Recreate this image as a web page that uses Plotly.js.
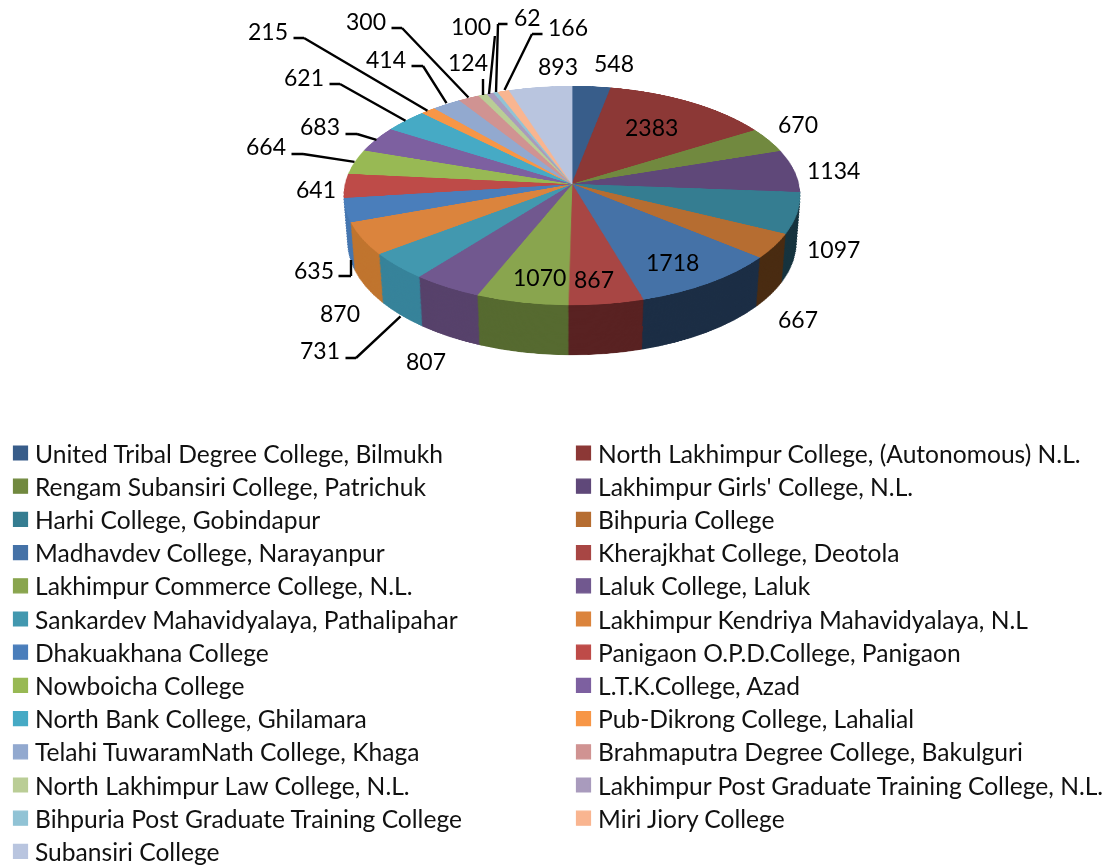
<!DOCTYPE html>
<html><head><meta charset="utf-8"><script src="https://cdn.plot.ly/plotly-3.0.1.min.js"></script>
<style>html,body{margin:0;padding:0;background:#fff;overflow:hidden}#w{width:1111px;height:865px;position:relative;overflow:hidden}#c{width:1180px;height:910px;position:relative}</style></head>
<body><div id="w"><div id="c"></div></div>
<script>
const colleges = ["United Tribal Degree College, Bilmukh","North Lakhimpur College, (Autonomous) N.L.","Rengam Subansiri College, Patrichuk","Lakhimpur Girls' College, N.L.","Harhi College, Gobindapur","Bihpuria College","Madhavdev College, Narayanpur","Kherajkhat College, Deotola","Lakhimpur Commerce College, N.L.","Laluk College, Laluk","Sankardev Mahavidyalaya, Pathalipahar","Lakhimpur Kendriya Mahavidyalaya, N.L","Dhakuakhana College","Panigaon O.P.D.College, Panigaon","Nowboicha College","L.T.K.College, Azad","North Bank College, Ghilamara","Pub-Dikrong College, Lahalial","Telahi TuwaramNath College, Khaga","Brahmaputra Degree College, Bakulguri","North Lakhimpur Law College, N.L.","Lakhimpur Post Graduate Training College, N.L.","Bihpuria Post Graduate Training College","Miri Jiory College","Subansiri College"];
const enrolment = [548,2383,670,1134,1097,667,1718,867,1070,807,731,870,635,641,664,683,621,215,414,300,124,100,62,166,893];
const topColors = ["#385d8a","#8c3836","#71893f","#5f4879","#357d91","#b66d31","#4572a7","#a84644","#89a54e","#71588f","#4298af","#db843d","#4a7ebb","#be4b48","#98b954","#7d60a0","#46aac5","#f79646","#92a9cf","#d09392","#bacd96","#a99bbd","#91c3d5","#f9b590","#b9c5df"];
const sideColors = ["#1f3550","#4f201f","#404e24","#362945","#17343f","#4a2c12","#1c2e45","#592222","#566a30","#57426b","#37839a","#c0752f","#4677b0","#a04040","#98b954","#7d60a0","#46aac5","#f79646","#92a9cf","#d09392","#bacd96","#a99bbd","#91c3d5","#f9b590","#b9c5df"];
const labelX = [614,652,798,833,833,798,673,594,539,426,320,340,314,316,266,320,304,268,386,366,468,471,527,568,558];
const labelY = [63,127,124,170,249,319,262,279,277,361,350,313,270,189,146,126,77,31,59,21,62,26,17,27,66];
const leaders = [
 [[293,38],[304,38],[428,111]],
 [[391,28],[402,28],[469,98]],
 [[483,78],[483,95]],
 [[495,35],[489,94]],
 [[508,24],[498,24],[496,93]],
 [[543,34],[532,34],[504,91]],
 [[411,66],[423,66],[447,104]],
 [[329,84],[340,84],[406,121]],
 [[345,134],[357,134],[377,140]],
 [[291,154],[303,154],[355,162]],
 [[338,276],[351,276],[351,259]],
 [[345,358],[356,358],[401,316]]
];
const W=1180,H=910,FONT="Lato, 'Open Sans', sans-serif",LABEL_SIZE=23,LEGEND_SIZE=24.6;
const legendLeft=-5,legendCol=563,legendRow=33.2,legendFirst=453;
const px=555,py=400,R=300,layers=60,shift=0.414,shrink=0.94;
const cx=572,y0=184,pp=0.105,a=226.7,b=108.3;

function pie(r,dy,colors,extra){
  const c=py+dy;
  return Object.assign({type:'pie',values:enrolment,sort:false,direction:'clockwise',rotation:0,
    textinfo:'none',textposition:'none',hoverinfo:'skip',showlegend:false,
    domain:{x:[(px-r)/W,(px+r)/W],y:[1-(c+r)/H,1-(c-r)/H]},
    marker:{colors:colors,line:{color:colors,width:1}}},extra||{});
}
const data=[];
for(let i=layers;i>=1;i--){
  const t=i/layers;
  data.push(pie(R*(1-(1-shrink)*t),R*shift*t,sideColors));
}
data.push(pie(R,0,topColors,{labels:colleges,showlegend:true,hoverinfo:'label+value'}));

const annotations=[];
enrolment.forEach((v,i)=>annotations.push({xref:'paper',yref:'paper',x:labelX[i]/W,y:1-labelY[i]/H,text:String(v),showarrow:false,xanchor:'center',yanchor:'middle',font:{family:FONT,size:LABEL_SIZE,color:'#000'}}));
function seg(tail,head){
  annotations.push({xref:'paper',yref:'paper',x:head[0]/W,y:1-head[1]/H,ax:tail[0]-head[0],ay:tail[1]-head[1],axref:'pixel',ayref:'pixel',text:' ',font:{size:1},showarrow:true,arrowhead:0,arrowwidth:2.4,arrowcolor:'#000',standoff:0,startstandoff:0,borderpad:0});
}
leaders.forEach(l=>{
  if(l.length===2){seg(l[0],l[1]);return;}
  seg(l[0],l[1]);seg(l[2],l[1]);
});

const layout={width:W,height:H,margin:{l:0,r:0,t:0,b:0,autoexpand:false},paper_bgcolor:'rgba(0,0,0,0)',plot_bgcolor:'rgba(0,0,0,0)',
  font:{family:FONT,color:'#000'},showlegend:true,annotations,
  legend:{orientation:'v',x:legendLeft/W,xanchor:'left',y:1-430/H,yanchor:'top',font:{family:FONT,size:LEGEND_SIZE,color:'#111'},bgcolor:'rgba(0,0,0,0)',traceorder:'normal',itemclick:false,itemdoubleclick:false}};

Plotly.newPlot('c',data,layout,{displayModeBar:false}).then(gd=>{
  const svg=gd.querySelector('svg.main-svg');
  const W0=1+pp*py/R;
  const m=[a/R,0,0,0, -cx*pp/R, -y0*pp/R+b/R,0,-pp/R, 0,0,1,0, cx*W0-a*px/R, y0*W0-b*py/R,0,W0];
  svg.style.transformOrigin='0 0';
  svg.style.transform='matrix3d('+m.join(',')+')';
  const legendBox=gd.querySelector('.legend').getAttribute('transform');
  const top=parseFloat(legendBox.split(',')[1]);
  const box=gd.querySelector('.legend .scrollbox');
  box.removeAttribute('clip-path');
  box.style.clipPath='none';
  gd.querySelectorAll('.legend .scrollbar').forEach(e=>e.remove());
  gd.querySelectorAll('.legend .traces').forEach((g,i)=>{
    const col=i%2,row=Math.floor(i/2);
    g.setAttribute('transform','translate('+(col*legendCol)+','+(legendFirst+row*legendRow-top)+')');
  });
  gd.querySelectorAll('.legend .legendpoints').forEach(g=>{
    g.setAttribute('transform','translate(2.1,0) scale(1.17)');
  });
});
</script></body></html>
